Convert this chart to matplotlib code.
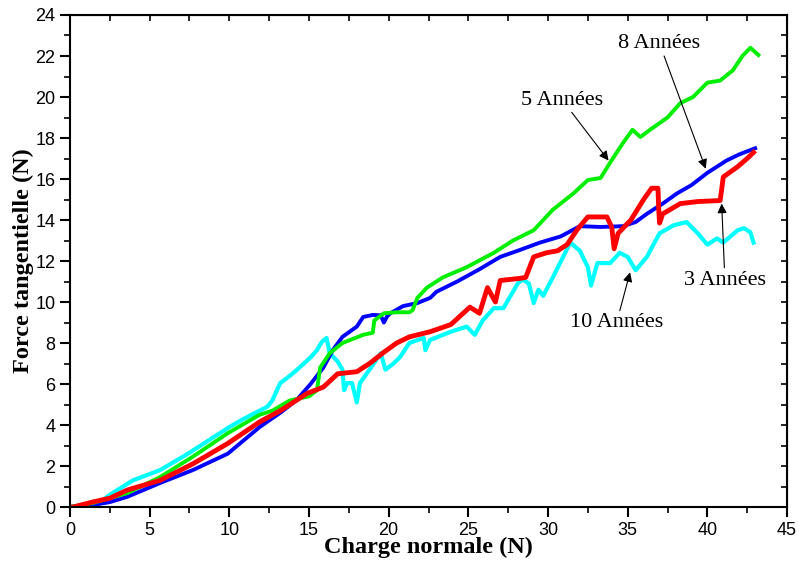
import matplotlib
matplotlib.use("Agg")
import matplotlib.pyplot as plt
from matplotlib.ticker import MultipleLocator

# Données (charge normale en N, force tangentielle en N)
x_3ans = [0, 0.2, 1.45, 2.5, 3.6, 5.65, 7.7, 9.9, 11.9, 13.2, 14.9, 15.9, 16.8, 18.0, 18.8,
          19.7, 20.5, 21.3, 22.6, 23.9, 25.1, 25.7, 26.2, 26.7, 27.0, 28.2, 28.6, 29.1,
          29.9, 30.6, 31.2, 31.8, 32.5, 33.7, 34.0, 34.15, 34.4, 35.2, 36.0, 36.5, 36.9,
          36.95, 37.0, 37.2, 38.3, 39.4, 40.8, 40.9, 41.0, 41.9, 42.5, 42.9]
y_3ans = [0, 0, 0.25, 0.43, 0.83, 1.3, 2.1, 3.1, 4.15, 4.7, 5.55, 5.85, 6.5, 6.6, 7.0,
          7.55, 8.0, 8.3, 8.55, 8.9, 9.75, 9.45, 10.7, 10.0, 11.05, 11.15, 11.2, 12.2,
          12.4, 12.5, 12.8, 13.5, 14.15, 14.15, 13.65, 12.6, 13.35, 14.0, 15.0, 15.55, 15.55,
          14.5, 13.85, 14.3, 14.8, 14.9, 14.95, 15.5, 16.1, 16.6, 17.0, 17.3]

x_5ans = [0, 1.45, 3.6, 5.65, 7.7, 9.9, 11.9, 12.7, 13.8, 15.0, 15.5, 15.7, 16.3, 17.1,
          18.4, 19.0, 19.1, 19.7, 20.5, 21.3, 21.5, 21.8, 22.4, 23.4, 24.9, 26.6, 27.8,
          29.1, 30.3, 31.6, 32.5, 33.3, 33.9, 34.7, 35.3, 35.8, 36.4, 37.5, 38.3, 39.1,
          40.0, 40.8, 41.6, 42.2, 42.7, 43.2]
y_5ans = [0, 0.2, 0.68, 1.46, 2.45, 3.6, 4.5, 4.7, 5.2, 5.4, 5.7, 6.8, 7.5, 8.0,
          8.4, 8.5, 9.1, 9.45, 9.5, 9.5, 9.6, 10.2, 10.7, 11.2, 11.7, 12.4, 13.0,
          13.5, 14.5, 15.3, 15.95, 16.05, 16.8, 17.75, 18.4, 18.05, 18.4, 19.0, 19.7, 20.0,
          20.7, 20.8, 21.3, 22.0, 22.4, 22.05]

x_8ans = [0, 1.45, 2.5, 3.6, 5.65, 7.7, 9.9, 11.9, 13.2, 14.2, 15.1, 15.9, 16.5, 17.1,
          18.0, 18.4, 19.0, 19.5, 19.7, 19.9, 20.1, 20.9, 21.8, 22.6, 23.0, 24.3, 25.7,
          27.0, 28.1, 29.5, 30.8, 32.0, 33.3, 34.7, 35.5, 36.2, 37.2, 38.1, 39.0, 40.0,
          41.2, 42.0, 43.0]
y_8ans = [0, 0.1, 0.24, 0.5, 1.17, 1.8, 2.6, 3.9, 4.6, 5.2, 6.0, 6.8, 7.66, 8.3,
          8.8, 9.27, 9.37, 9.35, 9.0, 9.3, 9.45, 9.8, 9.95, 10.2, 10.5, 11.0, 11.6,
          12.2, 12.5, 12.9, 13.2, 13.7, 13.66, 13.7, 13.9, 14.3, 14.8, 15.3, 15.7, 16.3,
          16.9, 17.2, 17.5]

x_10ans = [0, 1.9, 2.5, 3.95, 5.65, 7.3, 8.8, 10.0, 10.9, 12.4, 12.7, 12.9, 13.2, 13.8,
           14.4, 15.1, 15.5, 15.8, 16.1, 16.3, 16.8, 17.1, 17.2, 17.4, 17.7, 18.0, 18.2,
           18.8, 19.5, 19.8, 20.3, 20.7, 21.3, 22.2, 22.3, 22.6, 23.9, 24.9, 25.4, 25.9,
           26.6, 27.2, 28.1, 28.4, 28.8, 29.1, 29.4, 29.7, 30.3, 31.4, 32.0, 32.5, 32.7,
           33.1, 33.9, 34.5, 35.0, 35.5, 36.2, 37.0, 37.9, 38.7, 39.4, 40.0, 40.6, 41.0,
           41.9, 42.3, 42.7, 42.9]
y_10ans = [0, 0.25, 0.6, 1.3, 1.8, 2.55, 3.3, 3.9, 4.3, 4.9, 5.2, 5.55, 6.05, 6.4,
           6.8, 7.3, 7.65, 8.05, 8.25, 7.5, 7.1, 6.7, 5.7, 6.05, 6.05, 5.1, 6.05,
           6.7, 7.5, 6.7, 7.0, 7.3, 8.0, 8.25, 7.65, 8.15, 8.55, 8.8, 8.4, 9.1,
           9.7, 9.7, 10.9, 11.1, 10.9, 9.95, 10.6, 10.3, 11.2, 12.9, 12.5, 11.7, 10.8,
           11.9, 11.9, 12.4, 12.2, 11.55, 12.2, 13.35, 13.75, 13.9, 13.35, 12.8, 13.1, 12.9,
           13.5, 13.6, 13.4, 12.9]

fig = plt.figure(figsize=(7.99, 5.66), dpi=100)
ax = fig.add_axes([0.0876, 0.1042, 0.8974, 0.8693])

ax.plot(x_10ans, y_10ans, color='#00ffff', lw=3.0, solid_joinstyle='round')
ax.plot(x_8ans, y_8ans, color='#0000ff', lw=2.8, solid_joinstyle='round')
ax.plot(x_5ans, y_5ans, color='#00ee00', lw=2.8, solid_joinstyle='round')
ax.plot(x_3ans, y_3ans, color='#ff0000', lw=3.5, solid_joinstyle='round')

ax.set_xlim(0, 45)
ax.set_ylim(0, 24)
ax.xaxis.set_major_locator(MultipleLocator(5))
ax.xaxis.set_minor_locator(MultipleLocator(2.5))
ax.yaxis.set_major_locator(MultipleLocator(2))
ax.yaxis.set_minor_locator(MultipleLocator(1))

for s in ax.spines.values():
    s.set_linewidth(1.5)

ax.tick_params(which='major', direction='out', length=7, width=1.5,
               labelsize=13, top=False, right=False)
ax.tick_params(which='minor', direction='out', length=4, width=1.2,
               top=False, right=False)
for lab in ax.get_xticklabels() + ax.get_yticklabels():
    lab.set_family('Liberation Sans')

# graduations internes en haut et à droite
ax_top = ax.secondary_xaxis('top')
ax_top.xaxis.set_major_locator(MultipleLocator(2.5))
ax_top.tick_params(direction='in', length=4, width=1.2, labeltop=False)
ax_right = ax.secondary_yaxis('right')
ax_right.yaxis.set_major_locator(MultipleLocator(1))
ax_right.tick_params(direction='in', length=4, width=1.2, labelright=False)

serif = 'Liberation Serif'
ax.set_xlabel('Charge normale (N)', fontsize=17.5, fontweight='bold', family=serif, labelpad=-1)
ax.set_ylabel('Force tangentielle (N)', fontsize=17.5, fontweight='bold', family=serif, labelpad=1)

arrow = dict(arrowstyle='-|>', color='black', lw=0.8, mutation_scale=14, shrinkA=0, shrinkB=0)
ax.annotate('5 Années', xy=(33.8, 16.9), xytext=(30.9, 19.85), ha='center', va='center',
            fontsize=16, family=serif, arrowprops=arrow)
ax.annotate('8 Années', xy=(39.9, 16.5), xytext=(37.0, 22.6), ha='center', va='center',
            fontsize=16, family=serif, arrowprops=arrow)
ax.annotate('3 Années', xy=(40.9, 14.8), xytext=(41.1, 11.07), ha='center', va='center',
            fontsize=16, family=serif, arrowprops=arrow)
ax.annotate('10 Années', xy=(35.15, 11.45), xytext=(34.3, 8.98), ha='center', va='center',
            fontsize=16, family=serif, arrowprops=arrow)

fig.savefig('out.png', dpi=100)
